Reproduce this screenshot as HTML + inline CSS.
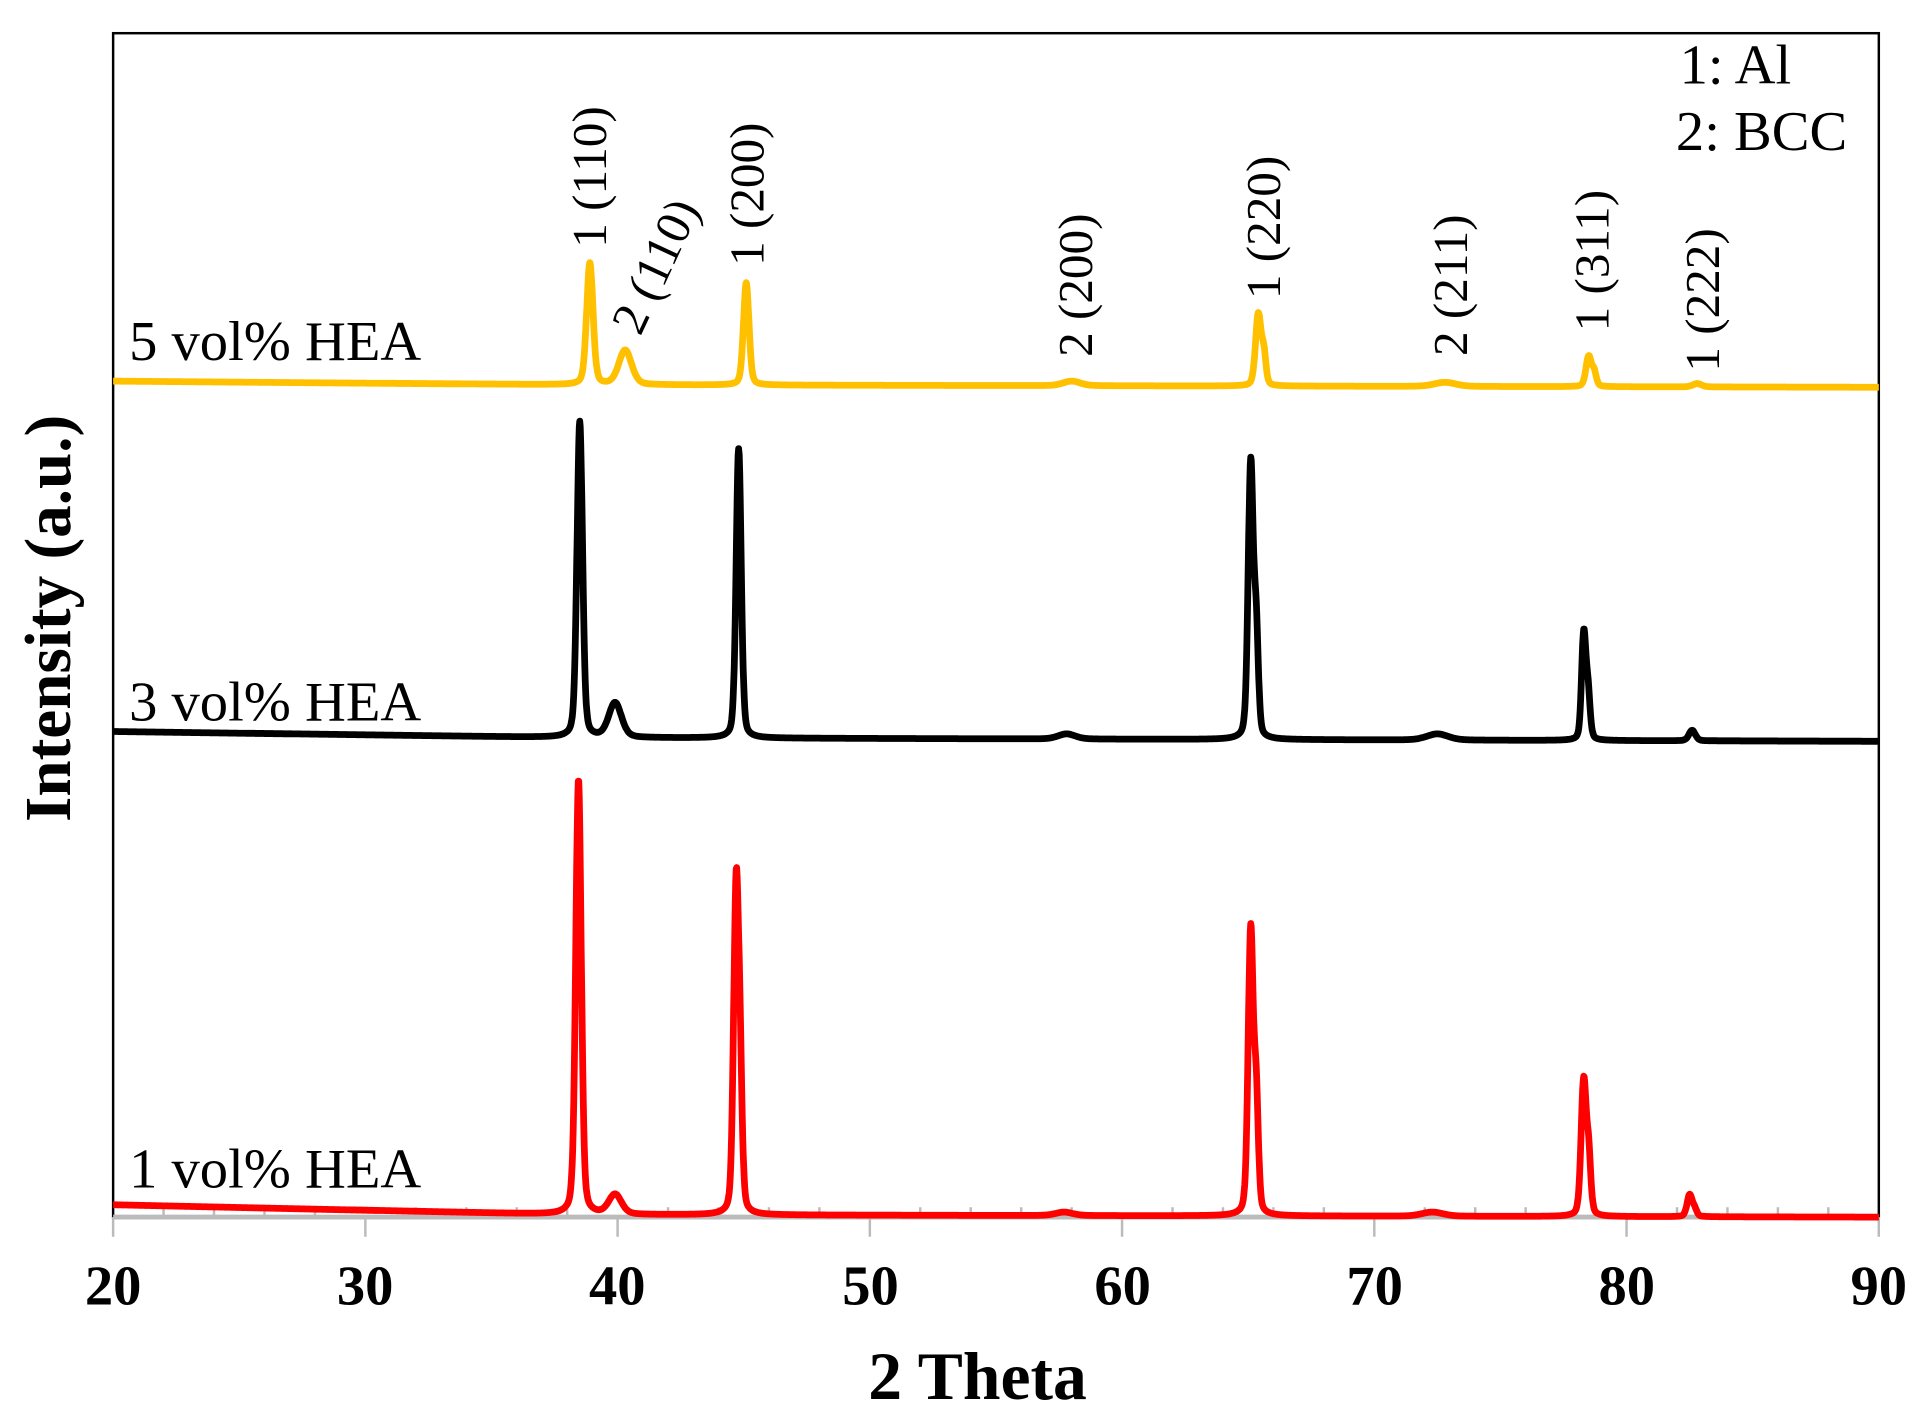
<!DOCTYPE html>
<html><head><meta charset="utf-8"><style>
html,body{margin:0;padding:0;background:#fff;}
svg{display:block;}
text{font-family:"Liberation Serif",serif;fill:#000;}
</style></head><body>
<svg id="s" width="1928" height="1415" viewBox="0 0 1568 1151" preserveAspectRatio="none" xmlns="http://www.w3.org/2000/svg">
<rect x="0" y="0" width="1568" height="1151" fill="#fff"/>
<rect x="92" y="27" width="1436" height="963" fill="none" stroke="#000" stroke-width="2"/>
<g id="ticks" stroke="#bbb" stroke-width="2"></g>
<line x1="92" y1="990" x2="1528" y2="990" stroke="#bbb" stroke-width="4"/>
<path id="pr" fill="none" stroke="#ff0000" stroke-width="5.5" stroke-linejoin="round"/>
<path id="pk" fill="none" stroke="#000" stroke-width="5.5" stroke-linejoin="round"/>
<path id="py" fill="none" stroke="#ffc000" stroke-width="5.5" stroke-linejoin="round"/>
<g font-size="46" text-anchor="middle" font-weight="bold">
<text x="92" y="1061">20</text>
<text x="297" y="1061">30</text>
<text x="502" y="1061">40</text>
<text x="708" y="1061">50</text>
<text x="913" y="1061">60</text>
<text x="1118" y="1061">70</text>
<text x="1323" y="1061">80</text>
<text x="1528" y="1061">90</text>
</g>
<text x="795" y="1138" font-size="55" font-weight="bold" text-anchor="middle">2 Theta</text>
<text transform="translate(57,503) rotate(-90)" font-size="53" font-weight="bold" text-anchor="middle">Intensity (a.u.)</text>
<g font-size="46">
<text x="105" y="293">5 vol% HEA</text>
<text x="105" y="586">3 vol% HEA</text>
<text x="105" y="966">1 vol% HEA</text>
<text x="1366" y="68">1: Al</text>
<text x="1363" y="122">2: BCC</text>
</g>
<g font-size="40" text-anchor="middle">
<text transform="translate(493,144) rotate(-90)">1 (110)</text>
<text transform="translate(545,222) rotate(-65)">2 (110)</text>
<text transform="translate(621,158) rotate(-90)">1 (200)</text>
<text transform="translate(888,232) rotate(-90)">2 (200)</text>
<text transform="translate(1041,185) rotate(-90)">1 (220)</text>
<text transform="translate(1193,232) rotate(-90)">2 (211)</text>
<text transform="translate(1308,212) rotate(-90)">1 (311)</text>
<text transform="translate(1398,244) rotate(-90)">1 (222)</text>
</g>
</svg>
<script>
function X(t){return 92+(t-20)*20.514;}
var tk=document.getElementById('ticks'),h='';
for(var t=20;t<=90;t+=10){h+='<line x1="'+X(t)+'" y1="990" x2="'+X(t)+'" y2="1006"/>';}
for(var t=22;t<90;t+=2){if(t%10)h+='<line x1="'+X(t)+'" y1="982" x2="'+X(t)+'" y2="990"/>';}
tk.innerHTML=h;
function mk(id,b0,b1,b2,peaks){
 var d='';
 for(var t=20;t<=90.001;t+=0.02){
  var base=t<38?b0+(b1-b0)*(t-20)/18:b1+(b2-b1)*(t-38)/52;
  var y=base;
  for(var i=0;i<peaks.length;i++){var p=peaks[i];var u=(t-p[0])/p[2];
   var g=Math.exp(-u*u*0.693),l=1/(1+u*u);y-=(base-p[1])*(0.7*g+0.3*l);}
  d+=(d?'L':'M')+X(t).toFixed(1)+','+y.toFixed(1);
 }
 document.getElementById(id).setAttribute('d',d);
}
mk('pr',980,988,990,[[38.45,634,0.13],[39.9,972,0.3],[44.7,725,0.12],[44.86,900,0.1],[57.7,986,0.4],[65.1,758,0.12],[65.32,900,0.1],[72.3,986,0.5],[78.3,880,0.12],[78.5,945,0.1],[82.5,972,0.12],[82.7,984,0.1]]);
mk('pk',595,600,603,[[38.5,343,0.13],[39.9,572,0.3],[44.8,365,0.12],[57.8,597,0.4],[65.1,378,0.12],[65.32,520,0.1],[72.5,597,0.5],[78.3,518,0.1],[78.47,565,0.1],[82.6,594,0.15]]);
mk('py',310,313,315,[[38.9,214,0.15],[40.3,285,0.3],[45.1,230,0.13],[58,310,0.4],[65.4,256,0.13],[65.62,290,0.1],[72.8,311,0.5],[78.5,290,0.13],[78.72,304,0.1],[82.8,312,0.2]]);
</script>
</body></html>
